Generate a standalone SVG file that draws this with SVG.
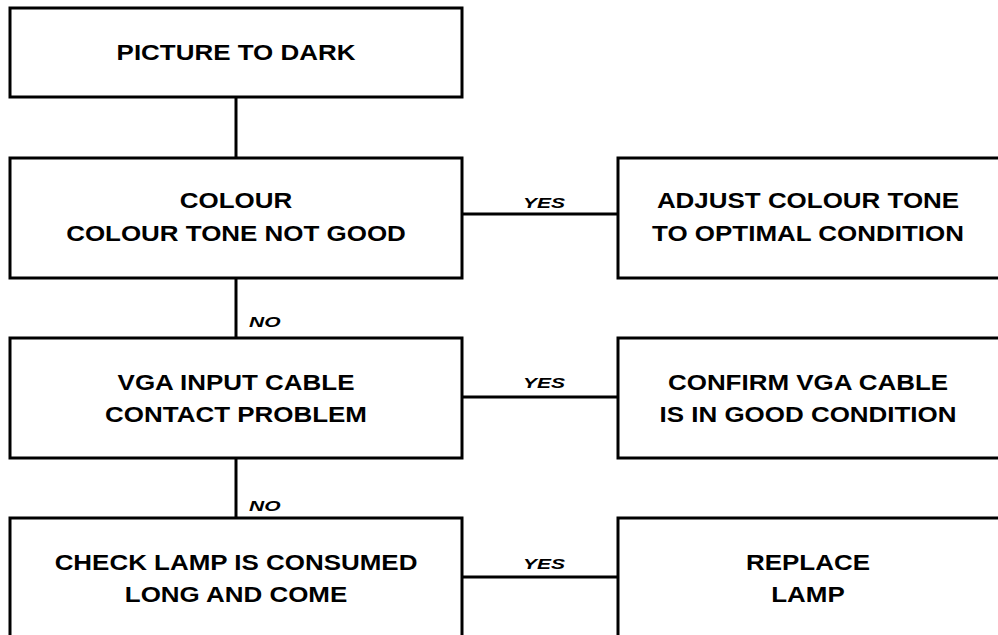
<svg xmlns="http://www.w3.org/2000/svg" width="998" height="635" viewBox="0 0 998 635">
<style>
.box{fill:#fff;stroke:#000;stroke-width:3}
.t{font-family:"Liberation Sans",Arial,sans-serif;font-weight:bold;font-size:22px;fill:#000;text-anchor:middle}
.lbl{font-family:"Liberation Sans",Arial,sans-serif;font-weight:bold;font-style:italic;font-size:15px;fill:#000}
.c{stroke:#000;stroke-width:3;fill:none}
</style>
<rect width="998" height="635" fill="#fff"/>
<g id="connectors">
<line class="c" x1="236" y1="97" x2="236" y2="158"/>
<line class="c" x1="236" y1="278" x2="236" y2="338"/>
<line class="c" x1="236" y1="458" x2="236" y2="518"/>
<line class="c" x1="462" y1="214" x2="618" y2="214"/>
<line class="c" x1="462" y1="397" x2="618" y2="397"/>
<line class="c" x1="462" y1="577" x2="618" y2="577"/>
<text class="lbl" text-anchor="middle" transform="translate(544,208) scale(1.4,1)">YES</text>
<text class="lbl" text-anchor="middle" transform="translate(544,388) scale(1.4,1)">YES</text>
<text class="lbl" text-anchor="middle" transform="translate(544,569) scale(1.4,1)">YES</text>
<text class="lbl" transform="translate(249,327) scale(1.4,1)">NO</text>
<text class="lbl" transform="translate(249,511) scale(1.4,1)">NO</text>
</g>
<g id="n1">
<rect class="box" x="10" y="8" width="452" height="89"/>
<text class="t" transform="translate(236,60) scale(1.18,1)">PICTURE TO DARK</text>
</g>
<g id="n2">
<rect class="box" x="10" y="158" width="452" height="120"/>
<text class="t" transform="translate(236,208) scale(1.18,1)">COLOUR</text>
<text class="t" transform="translate(236,241) scale(1.18,1)">COLOUR TONE NOT GOOD</text>
</g>
<g id="n3">
<rect class="box" x="618" y="158" width="400" height="120"/>
<text class="t" transform="translate(808,208) scale(1.18,1)">ADJUST COLOUR TONE</text>
<text class="t" transform="translate(808,241) scale(1.18,1)">TO OPTIMAL CONDITION</text>
</g>
<g id="n4">
<rect class="box" x="10" y="338" width="452" height="120"/>
<text class="t" transform="translate(236,390) scale(1.18,1)">VGA INPUT CABLE</text>
<text class="t" transform="translate(236,422) scale(1.18,1)">CONTACT PROBLEM</text>
</g>
<g id="n5">
<rect class="box" x="618" y="338" width="400" height="120"/>
<text class="t" transform="translate(808,390) scale(1.18,1)">CONFIRM VGA CABLE</text>
<text class="t" transform="translate(808,422) scale(1.18,1)">IS IN GOOD CONDITION</text>
</g>
<g id="n6">
<rect class="box" x="10" y="518" width="452" height="140"/>
<text class="t" transform="translate(236,570) scale(1.18,1)">CHECK LAMP IS CONSUMED</text>
<text class="t" transform="translate(236,602) scale(1.18,1)">LONG AND COME</text>
</g>
<g id="n7">
<rect class="box" x="618" y="518" width="400" height="140"/>
<text class="t" transform="translate(808,570) scale(1.18,1)">REPLACE</text>
<text class="t" transform="translate(808,602) scale(1.18,1)">LAMP</text>
</g>
</svg>
